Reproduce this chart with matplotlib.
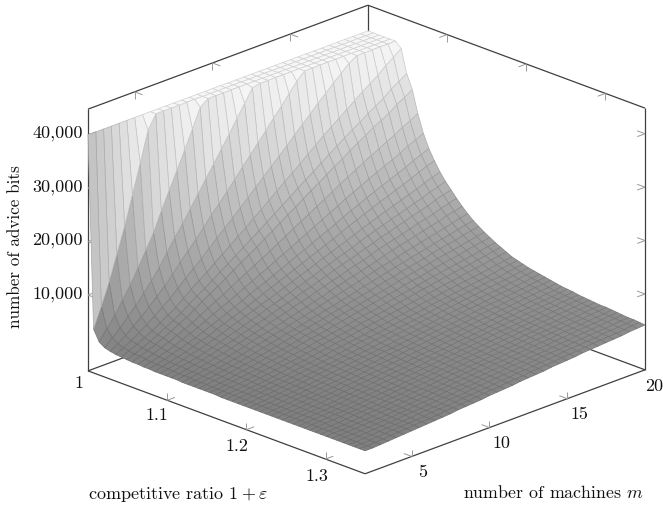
import matplotlib
matplotlib.use("Agg")
import matplotlib.pyplot as plt
import numpy as np

plt.rcParams["font.family"] = "cmr10"
plt.rcParams["mathtext.fontset"] = "cm"
plt.rcParams["axes.unicode_minus"] = False
plt.rcParams["axes.formatter.use_mathtext"] = True

W, H = 663, 507

# competitive ratio 1+eps, one entry per mesh row
ratio = [1.000, 1.007, 1.014, 1.021, 1.028, 1.035, 1.042, 1.049, 1.056, 1.063, 1.070, 1.077, 1.084,
         1.091, 1.098, 1.105, 1.112, 1.119, 1.126, 1.133, 1.140, 1.147, 1.154, 1.161, 1.168, 1.175,
         1.182, 1.189, 1.196, 1.203, 1.210, 1.217, 1.224, 1.231, 1.238, 1.245, 1.252, 1.259, 1.266,
         1.273, 1.280, 1.287, 1.294, 1.301, 1.308, 1.315, 1.322, 1.329, 1.336, 1.343, 1.350]

machines = [2, 2.5, 3, 3.5, 4, 4.5, 5, 5.5, 6, 6.5, 7, 7.5, 8, 8.5, 9, 9.5, 10, 10.5, 11, 11.5, 12,
            12.5, 13, 13.5, 14, 14.5, 15, 15.5, 16, 16.5, 17, 17.5, 18, 18.5, 19, 19.5, 20]

# advice bits in hundreds; a row stops once it sits on the 400 ceiling
bits_hundreds = [
    [400],
    [40, 77, 117, 164, 211, 265, 319, 375, 400],
    [20, 39, 59, 82, 105, 132, 159, 187, 222, 255, 287, 320, 354, 389, 400],
    [13, 26, 39, 55, 70, 88, 106, 125, 148, 170, 191, 213, 236, 259, 281, 304, 326, 350, 373, 397, 400],
    [10, 19, 29, 41, 53, 66, 80, 94, 111, 128, 144, 160, 177, 195, 211, 228, 245, 263, 280, 298, 315, 333, 350, 368, 386, 400],
    [8, 15, 23, 33, 42, 53, 64, 75, 89, 102, 115, 128, 142, 156, 169, 182, 196, 210, 224, 238, 252, 266, 280, 295, 309, 323, 338, 351, 365, 378, 391, 400],
    [7, 13, 20, 27, 35, 44, 53, 62, 74, 85, 96, 106, 118, 129, 140, 152, 163, 175, 186, 198, 210, 222, 233, 245, 257, 269, 281, 292, 303, 314, 325, 336, 346, 356, 369, 379, 390],
    [6, 11, 17, 24, 31, 39, 47, 56, 66, 76, 85, 95, 105, 115, 125, 135, 145, 155, 166, 176, 187, 197, 208, 218, 228, 239, 250, 260, 270, 280, 289, 299, 308, 317, 329, 338, 347],
    [5, 11, 16, 22, 29, 36, 44, 51, 61, 70, 79, 88, 97, 107, 116, 125, 134, 144, 153, 163, 173, 182, 192, 202, 211, 221, 231, 240, 250, 259, 268, 277, 285, 293, 304, 312, 321],
    [5, 9, 14, 20, 25, 32, 38, 45, 53, 61, 69, 76, 85, 93, 101, 109, 117, 125, 134, 142, 151, 159, 167, 176, 184, 193, 202, 210, 218, 226, 234, 241, 249, 256, 265, 272, 280],
    [4, 8, 12, 17, 22, 28, 34, 40, 47, 54, 61, 67, 75, 82, 89, 96, 103, 111, 118, 125, 133, 140, 148, 155, 163, 170, 178, 185, 192, 199, 206, 213, 219, 226, 234, 240, 247],
    [4, 7, 11, 16, 20, 25, 30, 36, 42, 48, 54, 61, 67, 74, 80, 86, 93, 99, 106, 113, 119, 126, 133, 139, 146, 153, 160, 166, 173, 179, 185, 191, 197, 203, 210, 216, 222],
    [3, 7, 10, 14, 18, 23, 28, 32, 39, 44, 50, 55, 61, 67, 73, 79, 85, 91, 97, 103, 109, 115, 121, 127, 134, 140, 146, 152, 158, 164, 169, 175, 180, 186, 192, 198, 203],
    [3, 6, 9, 13, 17, 21, 25, 30, 35, 41, 46, 51, 56, 62, 67, 72, 78, 83, 89, 94, 100, 106, 111, 117, 122, 128, 134, 139, 145, 150, 155, 160, 165, 170, 176, 181, 186],
    [3, 6, 9, 12, 15, 19, 23, 28, 33, 37, 42, 47, 52, 57, 62, 67, 72, 77, 82, 87, 93, 98, 103, 108, 113, 119, 124, 129, 134, 139, 143, 148, 153, 157, 163, 167, 172],
    [3, 5, 8, 11, 14, 18, 22, 26, 30, 35, 39, 44, 48, 53, 58, 62, 67, 72, 76, 81, 86, 91, 96, 100, 105, 110, 115, 120, 124, 129, 133, 138, 142, 146, 152, 156, 160],
    [3, 5, 7, 10, 13, 17, 20, 24, 28, 32, 36, 40, 45, 49, 53, 58, 62, 66, 71, 75, 80, 84, 89, 93, 97, 102, 107, 111, 115, 119, 123, 128, 131, 135, 140, 144, 148],
    [2, 5, 7, 10, 12, 15, 19, 22, 26, 30, 34, 37, 41, 45, 49, 53, 57, 61, 65, 70, 74, 78, 82, 86, 90, 94, 99, 103, 107, 110, 114, 118, 122, 125, 130, 133, 137],
    [2, 4, 6, 9, 11, 14, 17, 20, 24, 28, 31, 35, 38, 42, 46, 49, 53, 57, 61, 65, 68, 72, 76, 80, 84, 88, 91, 95, 99, 102, 106, 109, 113, 116, 120, 124, 127],
    [2, 4, 6, 8, 11, 13, 16, 19, 22, 26, 29, 32, 36, 39, 42, 46, 49, 53, 56, 60, 63, 67, 71, 74, 78, 81, 85, 88, 92, 95, 98, 102, 105, 108, 112, 115, 118],
    [2, 4, 6, 8, 10, 13, 15, 18, 21, 24, 27, 30, 34, 37, 40, 43, 46, 50, 53, 56, 60, 63, 66, 70, 73, 76, 80, 83, 86, 89, 93, 96, 99, 101, 105, 108, 111],
    [2, 3, 5, 7, 9, 12, 14, 17, 20, 23, 25, 28, 31, 35, 37, 40, 43, 47, 50, 53, 56, 59, 62, 65, 68, 72, 75, 78, 81, 84, 87, 90, 92, 95, 98, 101, 104],
    [2, 3, 5, 7, 9, 11, 13, 16, 19, 21, 24, 27, 30, 33, 35, 38, 41, 44, 47, 50, 53, 56, 59, 62, 64, 68, 71, 73, 76, 79, 82, 84, 87, 90, 93, 95, 98],
    [2, 3, 5, 6, 8, 10, 13, 15, 17, 20, 23, 25, 28, 31, 33, 36, 38, 41, 44, 47, 49, 52, 55, 58, 61, 63, 66, 69, 72, 74, 77, 79, 82, 84, 87, 90, 92],
    [1, 3, 4, 6, 8, 10, 12, 14, 17, 19, 21, 24, 26, 29, 31, 34, 36, 39, 42, 44, 47, 49, 52, 55, 57, 60, 63, 65, 68, 70, 73, 75, 77, 80, 82, 85, 87],
    [1, 3, 4, 6, 7, 9, 11, 13, 16, 18, 20, 22, 25, 27, 30, 32, 34, 37, 39, 42, 44, 47, 49, 51, 54, 56, 59, 61, 64, 66, 68, 71, 73, 75, 78, 80, 82],
    [1, 3, 4, 5, 7, 9, 10, 12, 15, 17, 19, 21, 23, 26, 28, 30, 32, 34, 37, 39, 41, 44, 46, 48, 51, 53, 55, 58, 60, 62, 64, 66, 68, 70, 73, 75, 77],
    [1, 2, 4, 5, 7, 8, 10, 12, 14, 16, 18, 20, 22, 24, 26, 29, 31, 33, 35, 37, 40, 42, 44, 46, 48, 51, 53, 55, 57, 59, 61, 63, 65, 67, 70, 72, 74],
    [1, 2, 4, 5, 6, 8, 10, 11, 13, 15, 17, 19, 21, 23, 25, 27, 29, 32, 34, 36, 38, 40, 42, 44, 46, 49, 51, 53, 55, 57, 59, 61, 63, 64, 67, 69, 71],
    [1, 2, 3, 5, 6, 8, 9, 11, 13, 15, 17, 19, 21, 23, 24, 26, 28, 30, 33, 35, 37, 39, 41, 43, 45, 47, 49, 51, 53, 55, 57, 59, 60, 62, 64, 66, 68],
    [1, 2, 3, 5, 6, 7, 9, 10, 12, 14, 16, 18, 20, 22, 24, 25, 27, 29, 31, 33, 35, 37, 39, 41, 43, 45, 47, 49, 51, 53, 55, 56, 58, 60, 62, 64, 66],
    [1, 2, 3, 4, 6, 7, 9, 10, 12, 14, 16, 17, 19, 21, 23, 25, 27, 28, 30, 32, 34, 36, 38, 40, 42, 44, 46, 48, 49, 51, 53, 55, 56, 58, 60, 62, 64],
    [1, 2, 3, 4, 6, 7, 8, 10, 12, 13, 15, 17, 19, 20, 22, 24, 26, 28, 29, 31, 33, 35, 37, 39, 40, 42, 44, 46, 48, 50, 51, 53, 55, 56, 58, 60, 62],
    [1, 2, 3, 4, 5, 7, 8, 10, 11, 13, 15, 16, 18, 20, 22, 23, 25, 27, 29, 30, 32, 34, 36, 38, 39, 41, 43, 45, 47, 48, 50, 52, 53, 55, 57, 58, 60],
    [1, 2, 3, 4, 5, 7, 8, 9, 11, 13, 14, 16, 18, 19, 21, 23, 24, 26, 28, 29, 31, 33, 35, 36, 38, 40, 42, 43, 45, 47, 48, 50, 52, 53, 55, 56, 58],
    [1, 2, 3, 4, 5, 6, 8, 9, 11, 12, 14, 15, 17, 19, 20, 22, 23, 25, 27, 28, 30, 32, 33, 35, 37, 39, 40, 42, 44, 45, 47, 48, 50, 51, 53, 54, 56],
    [1, 2, 3, 4, 5, 6, 7, 9, 10, 12, 13, 15, 17, 18, 20, 21, 23, 25, 26, 28, 29, 31, 33, 34, 36, 38, 39, 41, 43, 44, 46, 47, 49, 50, 52, 53, 55],
    [1, 2, 3, 4, 5, 6, 7, 9, 10, 12, 13, 15, 16, 18, 19, 21, 22, 24, 26, 27, 29, 30, 32, 34, 35, 37, 39, 40, 42, 43, 45, 46, 48, 49, 51, 52, 54],
    [1, 2, 3, 4, 5, 6, 7, 8, 10, 11, 13, 14, 16, 17, 19, 20, 22, 23, 25, 27, 28, 30, 31, 33, 34, 36, 38, 39, 41, 42, 44, 45, 47, 48, 50, 51, 52],
    [1, 2, 3, 4, 5, 6, 7, 8, 10, 11, 13, 14, 15, 17, 18, 20, 21, 23, 25, 26, 28, 29, 31, 32, 34, 35, 37, 38, 40, 41, 43, 44, 46, 47, 49, 50, 51],
    [1, 2, 3, 4, 5, 6, 7, 8, 10, 11, 12, 14, 15, 17, 18, 20, 21, 23, 24, 26, 27, 29, 30, 32, 33, 35, 36, 38, 39, 41, 42, 43, 45, 46, 48, 49, 50],
    [1, 2, 2, 3, 4, 6, 7, 8, 9, 11, 12, 13, 15, 16, 18, 19, 21, 22, 24, 25, 27, 28, 29, 31, 32, 34, 35, 37, 38, 40, 41, 42, 44, 45, 47, 48, 49],
    [1, 2, 2, 3, 4, 5, 7, 8, 9, 11, 12, 13, 15, 16, 17, 19, 20, 22, 23, 25, 26, 27, 29, 30, 32, 33, 35, 36, 38, 39, 40, 42, 43, 44, 46, 47, 48],
    [1, 2, 2, 3, 4, 5, 6, 8, 9, 10, 12, 13, 14, 16, 17, 18, 20, 21, 23, 24, 26, 27, 28, 30, 31, 33, 34, 36, 37, 38, 40, 41, 42, 43, 45, 46, 48],
    [1, 2, 2, 3, 4, 5, 6, 7, 9, 10, 11, 13, 14, 16, 17, 18, 20, 21, 22, 24, 25, 27, 28, 29, 31, 32, 34, 35, 36, 38, 39, 40, 41, 43, 44, 45, 47],
    [1, 2, 2, 3, 4, 5, 6, 7, 9, 10, 11, 13, 14, 15, 17, 18, 19, 21, 22, 23, 25, 26, 27, 29, 30, 32, 33, 34, 36, 37, 38, 40, 41, 42, 43, 45, 46],
    [1, 1, 2, 3, 4, 5, 6, 7, 9, 10, 11, 12, 14, 15, 16, 18, 19, 20, 22, 23, 24, 26, 27, 28, 30, 31, 32, 34, 35, 36, 38, 39, 40, 41, 43, 44, 45],
    [1, 1, 2, 3, 4, 5, 6, 7, 8, 10, 11, 12, 13, 15, 16, 17, 19, 20, 21, 23, 24, 25, 26, 28, 29, 31, 32, 33, 34, 36, 37, 38, 39, 40, 42, 43, 44],
    [1, 1, 2, 3, 4, 5, 6, 7, 8, 9, 11, 12, 13, 14, 16, 17, 18, 19, 21, 22, 23, 25, 26, 27, 29, 30, 31, 33, 34, 35, 36, 37, 39, 40, 41, 42, 44],
    [1, 1, 2, 3, 4, 5, 6, 7, 8, 9, 10, 12, 13, 14, 15, 17, 18, 19, 20, 22, 23, 24, 26, 27, 28, 29, 31, 32, 33, 34, 36, 37, 38, 39, 40, 42, 43],
    [1, 1, 2, 3, 4, 5, 6, 7, 8, 9, 10, 11, 13, 14, 15, 16, 18, 19, 20, 21, 23, 24, 25, 26, 28, 29, 30, 31, 33, 34, 35, 36, 37, 38, 40, 41, 42],
]

ratio_ticks = [1.1, 1.2, 1.3]
machine_ticks = [5, 10, 15]
bit_ticks = [10000, 20000, 30000, 40000]


def px(x, y):
    return x / W, 1 - y / H


Z = np.array([r + [r[-1]] * (len(machines) - len(r)) for r in bits_hundreds], dtype=float) * 100
X, Y = np.meshgrid(ratio, machines, indexing="ij")

xmin, xmax = 1.0, 1.35
ymin, ymax = 2, 20
zmin, zmax = -4200, 44800

fig = plt.figure(figsize=(W / 100, H / 100), dpi=100)
S = 800
ax = fig.add_axes([-44.3 / W, -143.3 / H, S / W, S / H], projection="3d", computed_zorder=False)
ax.set_proj_type("ortho")
ax.view_init(elev=21.8, azim=-45)
ax.set_box_aspect((392, 396, 282), zoom=606 / S)
ax.set_xlim(xmin, xmax, view_margin=0)
ax.set_ylim(ymin, ymax, view_margin=0)
ax.set_zlim(zmin, zmax, view_margin=0)
ax.set_axis_off()

# face colour from the mean height of each cell, edges a little darker
mean_z = (Z[:-1, :-1] + Z[1:, :-1] + Z[:-1, 1:] + Z[1:, 1:]) / 4
shade = 0.5 + 0.47 * mean_z / 40000
faces = np.dstack([shade, shade, shade])
surf = ax.plot_surface(X, Y, Z, facecolors=faces, rstride=1, cstride=1, shade=False,
                       linewidth=0.5, antialiased=True, zorder=2)
surf.set_edgecolor(np.clip(faces.reshape(-1, 3) * 0.85, 0, 1))


def seg(a, b, color="0.25", lw=0.9):
    ax.plot([a[0], b[0]], [a[1], b[1]], [a[2], b[2]], color=color, lw=lw, zorder=1, solid_capstyle="butt")


# box: back walls and floor
for a, b in [((xmin, ymin, zmin), (xmax, ymin, zmin)), ((xmax, ymin, zmin), (xmax, ymax, zmin)),
             ((xmin, ymin, zmin), (xmin, ymax, zmin)), ((xmin, ymax, zmin), (xmax, ymax, zmin)),
             ((xmin, ymin, zmin), (xmin, ymin, zmax)), ((xmax, ymax, zmin), (xmax, ymax, zmax)),
             ((xmin, ymax, zmin), (xmin, ymax, zmax)),
             ((xmin, ymin, zmax), (xmin, ymax, zmax)), ((xmin, ymax, zmax), (xmax, ymax, zmax))]:
    seg(a, b)

dx, dy, dz = 0.01, 0.5, 1300
tick_c = "0.6"
for t in ratio_ticks:
    seg((t, ymin, zmin), (t, ymin + dy, zmin), tick_c, 0.7)
    seg((t, ymin, zmin), (t, ymin, zmin + dz), tick_c, 0.7)
    seg((t, ymax, zmax), (t, ymax - dy, zmax), tick_c, 0.7)
    seg((t, ymax, zmax), (t, ymax, zmax - dz), tick_c, 0.7)
for t in machine_ticks:
    seg((xmax, t, zmin), (xmax - dx, t, zmin), tick_c, 0.7)
    seg((xmax, t, zmin), (xmax, t, zmin + dz), tick_c, 0.7)
    seg((xmin, t, zmax), (xmin + dx, t, zmax), tick_c, 0.7)
    seg((xmin, t, zmax), (xmin, t, zmax - dz), tick_c, 0.7)
for t in bit_ticks:
    seg((xmin, ymin, t), (xmin + dx, ymin, t), tick_c, 0.7)
    seg((xmin, ymin, t), (xmin, ymin + dy, t), tick_c, 0.7)
    seg((xmax, ymax, t), (xmax - dx, ymax, t), tick_c, 0.7)
    seg((xmax, ymax, t), (xmax, ymax - dy, t), tick_c, 0.7)

fs = 13
ink = "#111111"
for t, (x, y) in zip([1] + ratio_ticks, [(79, 383), (157, 415), (237, 446), (317, 476)]):
    fig.text(*px(x, y), str(t), fontsize=fs, color=ink, ha="center", va="center")
for t, (x, y) in zip(machine_ticks + [20], [(423, 472), (501, 443), (579, 414), (654, 386)]):
    fig.text(*px(x, y), str(t), fontsize=fs, color=ink, ha="center", va="center")
for t, y in zip(bit_ticks, [294, 240, 187, 133]):
    fig.text(*px(83, y), f"{t:,}", fontsize=fs, color=ink, ha="right", va="center")

fig.text(*px(15, 247), "number of advice bits", fontsize=12.3, color=ink, rotation=90, ha="center", va="center")
fig.text(*px(178, 495), r"competitive ratio $1+\varepsilon$", fontsize=13, color=ink, ha="center", va="center")
fig.text(*px(553, 493), r"number of machines $m$", fontsize=12.9, color=ink, ha="center", va="center")

fig.savefig("out.png", dpi=100)
